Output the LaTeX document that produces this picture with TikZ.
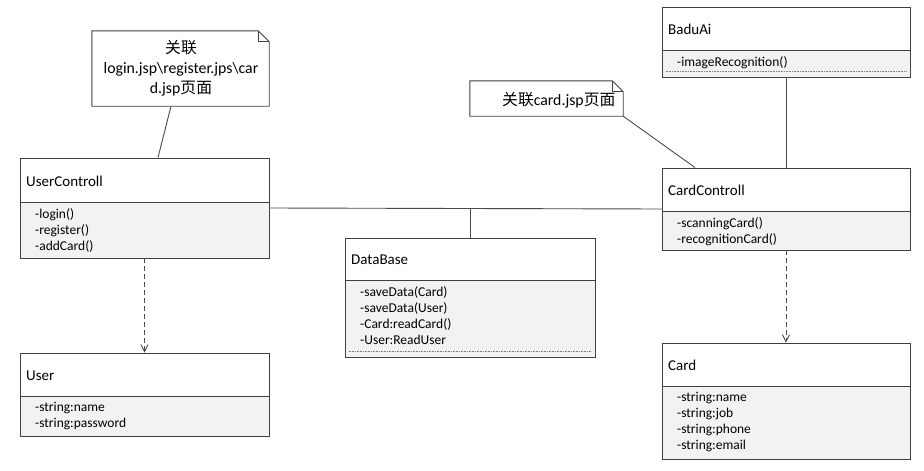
\documentclass[tikz,border=0pt]{standalone}
\usepackage{fontspec}
\setmainfont{Carlito}
\newfontfamily\cjk{Noto Sans CJK SC}
\usetikzlibrary{arrows.meta,fit}
\definecolor{boxcol}{HTML}{404040}
\definecolor{compfill}{HTML}{F2F2F2}
\definecolor{linecol}{HTML}{4A4A4A}
\tikzset{
  classbox/.style={draw=boxcol, line width=0.9pt, inner sep=0pt},
  divline/.style={draw=boxcol, line width=0.9pt},
  classtitle/.style={anchor=west, inner sep=0pt, text=black, font=\fontsize{15}{18}\selectfont},
  classitems/.style={anchor=north west, inner sep=0pt, align=left, text=black, font=\fontsize{13.5}{16}\selectfont},
  notebox/.style={draw=boxcol, line width=0.9pt, fill=white, line join=miter},
  notetext/.style={inner sep=0pt, align=center, text=black, font=\fontsize{15.8}{20}\selectfont},
  assoc/.style={draw=linecol, line width=0.9pt},
  depend/.style={draw=linecol, line width=0.9pt, dash pattern=on 5pt off 3pt, -{Straight Barb[length=7pt,width=7pt,line width=0.9pt]}},
  dotsep/.style={draw=gray, line width=0.6pt, dash pattern=on 0.8pt off 0.8pt}
}
\newcommand\umlclass[8]{%
  \fill[compfill] (#2,#5) rectangle (#4,#6);
  \node[classbox, fit={(#2,#3) (#4,#6)}] (#1) {};
  \draw[divline] (#2,#5) -- (#4,#5);
  \node[classtitle] (#1-t) at (#2+6,{(#3+#5)/2+1}) {#7};
  \node[classitems] (#1-i) at (#2+15,#5+6.5) {#8};
}
\newcommand\umlnote[6]{%
  \node[inner sep=0pt, fit={(#2,#3) (#4,#5)}] (#1) {};
  \draw[notebox] (#1.south west) -- (#1.north west) -- ([xshift=-#6pt]#1.north east)
     -- ([yshift=-#6pt]#1.north east) -- (#1.south east) -- cycle;
  \draw[notebox, fill=none] ([xshift=-#6pt]#1.north east) -- ([xshift=-#6pt,yshift=-#6pt]#1.north east)
     -- ([yshift=-#6pt]#1.north east);
}
\begin{document}
\begin{tikzpicture}[x=1pt,y=-1pt]
\useasboundingbox[fill=white] (0,0) rectangle (924,471);

% notes
\umlnote{n1}{92}{31}{269}{106}{11}
\node[notetext] (n1-t) at (181,68) {{\cjk 关联}\\login.jsp\textbackslash register.jps\textbackslash car\\d.jsp{\cjk 页面}};
\umlnote{n2}{470}{81}{623}{116}{11}
\node[notetext, anchor=west] (n2-t) at (502,100) {{\cjk 关联}card.jsp{\cjk 页面}};

% classes
\umlclass{uc}{20}{158}{269}{202}{258}{UserControll}{-login()\\-register()\\-addCard()}
\umlclass{user}{20}{353}{269}{396}{436}{User}{-string:name\\-string:password}
\umlclass{db}{345}{238}{595}{280}{357}{DataBase}{-saveData(Card)\\-saveData(User)\\-Card:readCard()\\-User:ReadUser}
\umlclass{ba}{662}{7}{910}{50}{77}{BaduAi}{-imageRecognition()}
\umlclass{cc}{662}{168}{910}{211}{250}{CardControll}{-scanningCard()\\-recognitionCard()}
\umlclass{card}{662}{343}{910}{386}{459}{Card}{-string:name\\-string:job\\-string:phone\\-string:email}

% dotted separators
\draw[dotsep] ([xshift=4pt,yshift=6pt]ba.south west) -- ([xshift=-4pt,yshift=6pt]ba.south east);
\draw[dotsep] ([xshift=4pt,yshift=6pt]db.south west) -- ([xshift=-4pt,yshift=6pt]db.south east);

% connectors
\coordinate (dbj) at (db.north |- uc.east);
\draw[assoc] (uc.east) -- (cc.west);
\draw[assoc] (db.north) -- (dbj);
\draw[assoc] ([xshift=-9.5pt]n1.south) -- ([xshift=13.5pt]uc.north);
\draw[assoc] (n2.south east) -- ([xshift=-91pt]cc.north);
\draw[assoc] (ba.south) -- (cc.north);
\draw[depend] (uc.south) -- (user.north);
\draw[depend] (cc.south) -- (card.north);
\end{tikzpicture}
\end{document}
